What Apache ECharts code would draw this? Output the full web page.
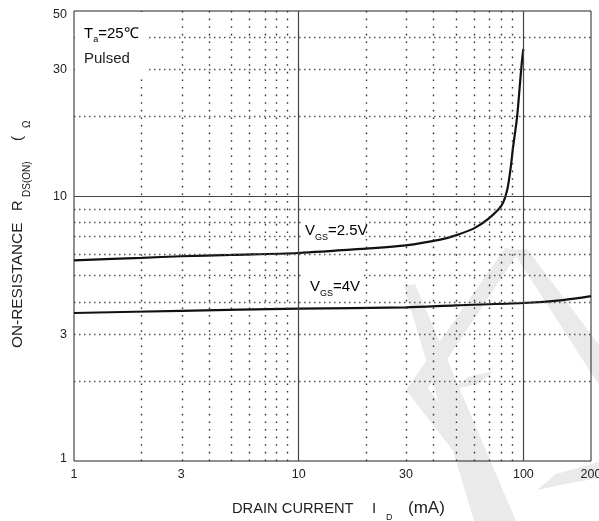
<!DOCTYPE html>
<html>
<head>
<meta charset="utf-8">
<script src="https://cdn.jsdelivr.net/npm/echarts@6/dist/echarts.min.js"></script>
<style>html,body{margin:0;padding:0;background:#fff;}#c{width:599px;height:521px;}</style>
</head>
<body>
<div id="c"></div>
<script>
// ---- data ----
const xTicks = [1, 3, 10, 30, 100, 200];
const yTicks = [1, 3, 10, 30, 50];
const xMinorGrid = [2, 3, 4, 5, 6, 7, 8, 9, 20, 30, 40, 50, 60, 70, 80, 90];
const xMajorGrid = [10, 100];
const yMinorGrid = [2, 3, 4, 5, 6, 7, 8, 9, 20, 30, 40];
const yMajorGrid = [10];
const idVgs25 = [1, 2, 3, 5, 10, 20, 30, 42.7, 50, 60, 70, 80, 84.6, 87.5, 90, 93.7, 96.3, 98.3, 100];
const rVgs25 = [5.72, 5.85, 5.93, 6.0, 6.1, 6.34, 6.52, 6.85, 7.11, 7.54, 8.22, 9.22, 10.5, 12.5, 15.3, 19.8, 25.8, 31.6, 36];
const idVgs4 = [1, 3, 10, 30, 50, 100, 150, 200];
const rVgs4 = [3.62, 3.69, 3.76, 3.80, 3.87, 3.95, 4.05, 4.19];

const L = Math.log10;
const FF = '"Liberation Sans", Arial, sans-serif';
const chart = echarts.init(document.getElementById('c'), null, {renderer: 'canvas'});

function fmt(ticks, edgeStyles) {
  return function (v) {
    const t = ticks.find(t => Math.abs(L(t) - v) < 1e-6);
    if (t === undefined) return '';
    const st = edgeStyles && edgeStyles[t];
    return st ? '{' + st + '|' + t + '}' : String(t);
  };
}
const toPts = (xs, ys) => xs.map((x, i) => [L(x), L(ys[i])]);

const hDot = {color: '#555', width: 1.3, type: [1.5, 3.5]};
const vDot = {color: '#333', width: 1.4, type: [1.6, 6]};
const solid = {color: '#444', width: 1.2, type: 'solid'};

const markData = [].concat(
  xMinorGrid.map(v => ({xAxis: L(v), lineStyle: vDot})),
  yMinorGrid.map(v => ({yAxis: L(v), lineStyle: hDot})),
  xMajorGrid.map(v => ({xAxis: L(v), lineStyle: solid})),
  yMajorGrid.map(v => ({yAxis: L(v), lineStyle: solid}))
);

const mainTxt = {fontSize: 15, fontFamily: FF, color: '#222', verticalAlign: 'top'};
function subTxt(pad) {
  return {fontSize: 9, fontFamily: FF, color: '#222', verticalAlign: 'top', padding: [pad, 0, 0, 0]};
}
function txt(x, y, text, size) {
  return {type: 'text', z: 51, silent: true, x: x, y: y,
    style: {text: text, fontSize: size, fontFamily: FF, fill: '#222', align: 'left', verticalAlign: 'middle'}};
}
function rtxt(x, y, text, size) {
  return {type: 'text', z: 51, silent: true, x: x, y: y, rotation: Math.PI / 2,
    style: {text: text, fontSize: size, fontFamily: FF, fill: '#222', align: 'left', verticalAlign: 'middle'}};
}

const wm = '#eaeaea';
const option = {
  animation: false,
  backgroundColor: '#fff',
  grid: {left: 74, right: 8, top: 11, bottom: 60, show: true, borderColor: '#222', borderWidth: 1,
    containLabel: false, outerBoundsMode: 'none'},
  xAxis: {
    type: 'value', min: 0, max: L(200),
    axisLine: {show: false}, axisTick: {show: false}, splitLine: {show: false},
    axisLabel: {customValues: xTicks.map(L), formatter: fmt(xTicks), margin: 7, color: '#222', fontSize: 12.5, fontFamily: FF}
  },
  yAxis: {
    type: 'value', min: 0, max: L(50),
    axisLine: {show: false}, axisTick: {show: false}, splitLine: {show: false},
    axisLabel: {
      customValues: yTicks.map(L), formatter: fmt(yTicks, {50: 'dn', 1: 'up'}), margin: 7, color: '#222', fontSize: 12.5, fontFamily: FF,
      rich: {dn: {padding: [7, 0, 0, 0], fontSize: 12.5, fontFamily: FF, color: '#222'}, up: {padding: [0, 0, 4, 0], fontSize: 12.5, fontFamily: FF, color: '#222'}}
    }
  },
  series: [
    {
      type: 'line', name: 'grid', data: toPts(idVgs4, rVgs4), symbol: 'none', silent: true, z: 1,
      lineStyle: {opacity: 0},
      markLine: {silent: true, symbol: ['none', 'none'], label: {show: false}, animation: false, data: markData}
    },
    {
      type: 'line', name: 'VGS=2.5V', data: toPts(idVgs25, rVgs25), symbol: 'none', smooth: 0.3, z: 3,
      lineStyle: {color: '#111', width: 2.2}
    },
    {
      type: 'line', name: 'VGS=4V', data: toPts(idVgs4, rVgs4), symbol: 'none', smooth: 0.3, z: 3,
      lineStyle: {color: '#111', width: 2.2}
    }
  ],
  graphic: [
    // watermark
    {type: 'polygon', z: -1, silent: true, shape: {points: [[404, 286], [415, 284], [516, 521], [474, 521]]}, style: {fill: wm}},
    {type: 'polygon', z: -1, silent: true, shape: {points: [[505, 248], [520, 250], [428, 388], [478, 455], [468, 470], [406, 390]]}, style: {fill: wm}},
    {type: 'polygon', z: -1, silent: true, shape: {points: [[512, 250], [527, 249], [599, 345], [599, 385]]}, style: {fill: wm}},
    {type: 'polygon', z: -1, silent: true, shape: {points: [[452, 390], [468, 377], [494, 371], [478, 384]]}, style: {fill: wm}},
    {type: 'polygon', z: -1, silent: true, shape: {points: [[537, 490], [556, 474], [599, 462], [599, 478], [565, 484]]}, style: {fill: wm}},
    // white label boxes
    {type: 'rect', z: 50, silent: true, shape: {x: 75, y: 12, width: 73, height: 63}, style: {fill: '#fff'}},
    {type: 'rect', z: 50, silent: true, shape: {x: 301, y: 214, width: 64, height: 31}, style: {fill: '#fff'}},
    {type: 'rect', z: 50, silent: true, shape: {x: 303, y: 271, width: 58, height: 27}, style: {fill: '#fff'}},
    // annotations
    {type: 'text', z: 51, x: 84, y: 26, style: {text: '{m|T}{s|a}{m|=25℃}', rich: {m: mainTxt, s: subTxt(9)}}},
    txt(84, 59, 'Pulsed', 15),
    {type: 'text', z: 51, x: 305, y: 223, style: {text: '{m|V}{s|GS}{m|=2.5V}', rich: {m: mainTxt, s: subTxt(10)}}},
    {type: 'text', z: 51, x: 310, y: 279, style: {text: '{m|V}{s|GS}{m|=4V}', rich: {m: mainTxt, s: subTxt(10)}}},
    // x axis title
    txt(232, 508.5, 'DRAIN CURRENT', 14.7),
    txt(372, 508.5, 'I', 15),
    txt(386, 517.5, 'D', 9),
    txt(408, 508.5, '(mA)', 17),
    // y axis title (reads bottom to top)
    rtxt(17.5, 348, 'ON-RESISTANCE', 15.4),
    rtxt(17.5, 211, 'R', 14.5),
    rtxt(27.5, 197, 'DS(ON)', 10),
    rtxt(17.5, 141, '(', 15),
    rtxt(27.5, 128, 'Ω', 10)
  ]
};
chart.setOption(option);
</script>
</body>
</html>
